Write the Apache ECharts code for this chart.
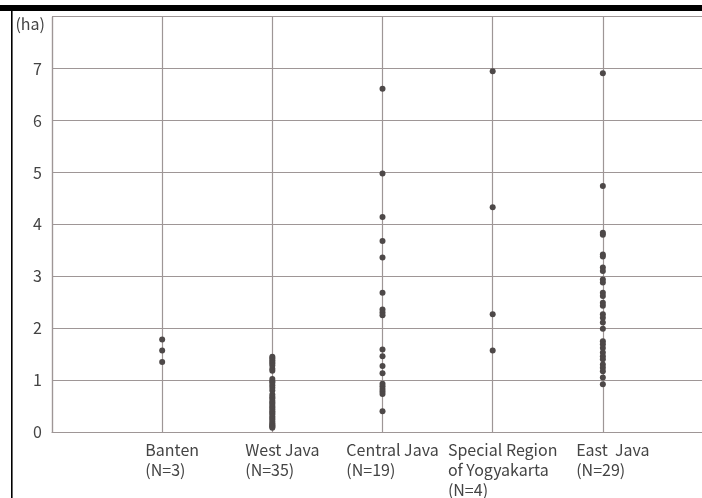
<!DOCTYPE html>
<html>
<head>
<meta charset="utf-8">
<script src="https://cdn.jsdelivr.net/npm/echarts@6/dist/echarts.min.js"></script>
<style>
html,body{margin:0;padding:0;background:#fff;}
#chart{width:702px;height:498px;}
</style>
</head>
<body>
<div id="chart"></div>
<script>
const categories = ['Banten', 'West Java', 'Central Java', 'Special Region\nof Yogyakarta', 'East  Java'];
const sampleSizes = ['(N=3)', '(N=35)', '(N=19)', '(N=4)', '(N=29)'];
const yTicks = [0, 1, 2, 3, 4, 5, 6, 7, 8];
const unitLabel = '(ha)';

const banten = [1.78, 1.57, 1.35];
const westJava = [1.45, 1.42, 1.38, 1.35, 1.32, 1.28, 1.22, 1.18,
  1.02, 0.98, 0.95, 0.90, 0.85, 0.80,
  0.72, 0.68, 0.65, 0.60, 0.57, 0.54, 0.50, 0.47, 0.44, 0.40, 0.37,
  0.34, 0.30, 0.27, 0.24, 0.20, 0.17, 0.14, 0.12, 0.10, 0.08];
const centralJava = [6.61, 4.98, 4.14, 3.68, 3.36, 2.68, 2.36, 2.30, 2.25,
  1.59, 1.46, 1.27, 1.13, 0.93, 0.88, 0.83, 0.78, 0.73, 0.40];
const yogyakarta = [6.95, 4.33, 2.27, 1.57];
const eastJava = [6.91, 4.74, 3.84, 3.80, 3.42, 3.38, 3.17, 3.10, 2.94, 2.88,
  2.68, 2.62, 2.49, 2.43, 2.27, 2.20, 2.11, 1.99, 1.75, 1.69,
  1.62, 1.53, 1.46, 1.40, 1.30, 1.24, 1.17, 1.05, 0.92];

const groups = [banten, westJava, centralJava, yogyakarta, eastJava];
const points = [];
groups.forEach(function (vals, i) {
  vals.forEach(function (v) { points.push([i + 1, v]); });
});

const FONT = "'Noto Sans CJK JP', 'Noto Sans', sans-serif";
const GRID = '#9e9696';
const TEXT = '#444';

const chart = echarts.init(document.getElementById('chart'));
chart.setOption({
  animation: false,
  backgroundColor: '#fff',
  textStyle: { fontFamily: FONT },
  grid: { left: 52, right: 0, top: 16.7, bottom: 65.5, containLabel: false },
  xAxis: {
    type: 'value', min: 0, max: 5.9, interval: 1,
    axisLine: { show: true, onZero: false, lineStyle: { color: GRID, width: 1.2 } },
    axisTick: { show: false },
    splitLine: { show: true, showMaxLine: false, lineStyle: { color: GRID, width: 1.2 } },
    axisLabel: {
      margin: 8,
      align: 'center',
      padding: [0, 0, 0, 20],
      showMaxLabel: false,
      formatter: function (v) {
        const i = Math.round(v) - 1;
        if (Math.abs(v - Math.round(v)) > 1e-6 || i < 0 || i >= categories.length) return '';
        const lines = categories[i].split('\n').concat([sampleSizes[i]]);
        return lines.map(function (s) { return '{l|' + s + '}'; }).join('\n');
      },
      rich: { l: { align: 'left', fontSize: 16, lineHeight: 20, color: TEXT, fontFamily: FONT } }
    }
  },
  yAxis: {
    type: 'value', min: yTicks[0], max: yTicks[yTicks.length - 1], interval: 1,
    name: unitLabel,
    nameLocation: 'end',
    nameGap: 1,
    nameTextStyle: { align: 'right', verticalAlign: 'top', padding: [0, 7, 0, 0], fontSize: 16, color: TEXT, fontFamily: FONT },
    axisLine: { show: true, lineStyle: { color: GRID, width: 1.2 } },
    axisTick: { show: false },
    splitLine: { show: true, lineStyle: { color: GRID, width: 1.2 } },
    axisLabel: {
      margin: 10, fontSize: 16, color: TEXT, fontFamily: FONT,
      formatter: function (v) { return v === yTicks[yTicks.length - 1] ? '' : String(v); }
    }
  },
  graphic: [
    { type: 'rect', shape: { x: 0, y: 5, width: 702, height: 6 }, style: { fill: '#000' }, silent: true },
    { type: 'rect', shape: { x: 11, y: 11, width: 1.6, height: 487 }, style: { fill: '#000' }, silent: true }
  ],
  series: [{
    type: 'scatter',
    data: points,
    symbol: 'circle',
    symbolSize: 6,
    itemStyle: { color: '#4d4848', opacity: 1 }
  }]
});
</script>
</body>
</html>
